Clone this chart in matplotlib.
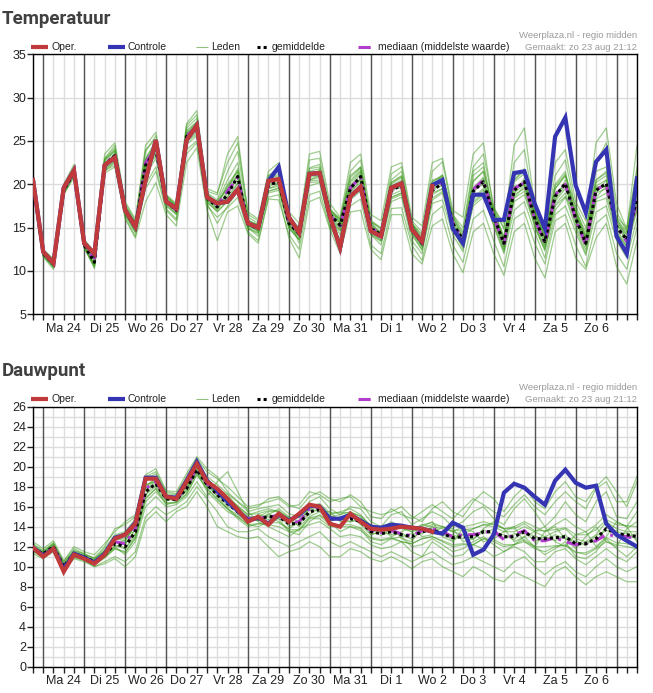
"""
Ensemble pluim (Weerplaza-stijl): temperatuur en dauwpunt voor regio midden.

Two stacked panels, each with the 6-hourly ensemble members (thin green),
ensemble mean (black dotted), median (magenta dashed), control run (blue)
and the operational run (red, stops after ~4 days).

Output: out.png
"""

import matplotlib
matplotlib.use("Agg")
import matplotlib.pyplot as plt
from matplotlib.lines import Line2D
import pandas as pd

# ---------------------------------------------------------------- data ----
TIMES = pd.date_range("2020-08-23 18:00", periods=60, freq="6h")
DAY_NOONS = pd.date_range("2020-08-24 12:00", periods=14, freq="D")
MIDNIGHTS = pd.date_range("2020-08-24 00:00", periods=15, freq="D")
DAY_LABELS = ["Ma 24", "Di 25", "Wo 26", "Do 27", "Vr 28", "Za 29", "Zo 30",
              "Ma 31", "Di 1", "Wo 2", "Do 3", "Vr 4", "Za 5", "Zo 6"]
LEGEND_LABELS = ["Oper.", "Controle", "Leden", "gemiddelde",
                 "mediaan (middelste waarde)"]

# Temperatuur (degC)
T_OPER = [20.5, 12.2, 10.9, 19.6, 21.6, 13.2, 12.0, 22.2, 23.1, 17.0,
          15.1, 20.5, 25.1, 18.0, 17.2, 25.1, 26.8, 18.5, 17.8, 18.0,
          19.4, 15.5, 15.0, 20.4, 20.6, 16.2, 14.4, 21.2, 21.3, 16.3,
          12.7, 18.6, 19.7, 14.6, 14.0, 19.6, 20.1, 14.8, 13.4, 19.8]
T_CTRL = [20.5, 12.2, 10.9, 19.6, 21.6, 13.2, 12.0, 22.2, 23.1, 17.0,
          15.1, 20.5, 25.1, 18.0, 17.2, 25.1, 26.8, 18.5, 17.8, 18.0,
          19.4, 15.5, 15.0, 20.4, 22.0, 16.2, 14.4, 21.2, 21.3, 16.3,
          12.7, 18.6, 19.7, 14.6, 14.0, 19.6, 20.1, 14.8, 13.4, 19.9,
          20.5, 14.9, 13.2, 18.8, 18.8, 15.9, 15.9, 21.3, 21.5, 17.8,
          14.9, 25.5, 27.7, 19.9, 16.7, 22.6, 24.0, 14.0, 12.0, 20.7]
T_MEAN = [20.3, 12.0, 10.8, 19.3, 21.4, 13.0, 11.0, 22.2, 23.3, 17.0,
          15.0, 22.2, 24.0, 18.0, 17.0, 25.5, 26.5, 18.4, 17.4, 18.8,
          20.9, 15.4, 14.9, 19.9, 20.3, 15.5, 14.3, 21.1, 21.3, 16.5,
          15.3, 19.5, 20.9, 14.9, 14.2, 19.3, 19.9, 14.9, 13.2, 19.3,
          20.1, 15.5, 13.6, 19.2, 20.3, 16.3, 13.2, 19.3, 20.3, 16.1,
          13.4, 18.6, 20.1, 16.1, 13.2, 19.3, 20.1, 15.1, 13.6, 18.4]
T_MEDIAN = [20.4, 12.1, 10.9, 19.4, 21.4, 13.1, 11.2, 22.3, 23.4, 17.1,
            15.1, 22.5, 24.2, 18.1, 17.0, 25.6, 26.6, 18.5, 17.6, 19.2,
            20.8, 15.4, 14.9, 20.0, 20.4, 15.6, 14.4, 21.2, 21.4, 16.4,
            15.2, 19.6, 20.8, 15.0, 14.2, 19.4, 20.0, 15.0, 13.3, 19.5,
            20.3, 15.6, 13.5, 19.4, 20.5, 16.2, 13.0, 19.5, 20.2, 16.0,
            13.2, 18.8, 20.0, 16.0, 13.0, 19.5, 19.8, 15.2, 13.4, 18.2]
T_MEMBERS = [
    [20.8, 12.4, 11.2, 19.8, 22.0, 13.5, 11.8, 23.0, 24.5, 17.6, 15.6, 23.8, 25.6, 18.6, 17.6, 26.8, 28.0, 19.0, 18.2, 21.5,
     23.8, 16.2, 15.5, 21.0, 22.0, 16.3, 15.0, 22.8, 23.0, 17.2, 16.0, 21.5, 22.8, 15.8, 15.0, 21.2, 22.0, 15.8, 14.5, 21.5,
     22.6, 16.5, 15.0, 22.0, 23.5, 17.5, 14.8, 22.5, 24.0, 17.0, 14.5, 21.0, 22.8, 17.2, 14.0, 22.5, 24.8, 16.8, 14.6, 22.0],
    [19.8, 11.6, 10.2, 18.8, 20.8, 12.6, 10.4, 21.3, 22.0, 16.2, 14.0, 19.5, 21.5, 17.0, 15.8, 23.5, 24.8, 17.5, 16.2, 17.3,
     18.5, 14.5, 13.5, 18.3, 18.2, 14.2, 12.5, 18.8, 19.2, 15.0, 13.2, 17.5, 18.3, 13.0, 12.0, 17.2, 17.3, 13.0, 11.2, 16.5,
     17.5, 13.0, 11.0, 16.0, 17.0, 13.5, 10.5, 16.0, 16.8, 13.2, 10.8, 15.8, 16.5, 13.0, 10.5, 15.5, 16.5, 12.0, 10.2, 15.0],
    [20.5, 12.2, 11.0, 19.5, 21.6, 13.3, 11.5, 22.6, 23.8, 17.3, 15.3, 22.8, 24.6, 18.3, 17.2, 25.9, 27.0, 18.8, 17.8, 19.6,
     21.8, 15.7, 15.0, 20.5, 21.0, 15.9, 14.8, 21.8, 22.0, 16.8, 15.5, 20.2, 21.6, 15.3, 14.5, 20.0, 20.8, 15.4, 13.8, 20.2,
     21.0, 16.0, 14.0, 20.4, 21.5, 16.8, 13.8, 20.3, 21.2, 16.6, 13.9, 19.5, 21.0, 16.6, 13.8, 20.2, 21.0, 15.6, 14.2, 19.5],
    [20.1, 11.8, 10.5, 19.0, 21.0, 12.8, 10.7, 21.8, 22.6, 16.6, 14.6, 21.0, 23.0, 17.5, 16.5, 24.6, 25.6, 18.0, 16.8, 18.0,
     19.6, 14.9, 14.3, 19.0, 19.3, 14.9, 13.6, 20.2, 20.3, 15.8, 14.6, 18.6, 19.8, 14.2, 13.4, 18.3, 18.8, 14.2, 12.4, 18.2,
     19.0, 14.8, 12.8, 18.0, 19.0, 15.3, 12.2, 18.0, 18.8, 15.2, 12.3, 17.5, 18.6, 15.0, 12.0, 18.0, 18.4, 14.0, 12.5, 17.0],
    [20.6, 12.3, 11.1, 19.7, 21.8, 13.4, 11.6, 22.8, 24.0, 17.8, 15.8, 24.5, 26.0, 18.8, 17.8, 27.0, 28.5, 19.5, 19.0, 22.5,
     24.8, 16.8, 16.0, 21.5, 22.5, 16.8, 15.5, 23.5, 23.8, 17.8, 16.2, 22.5, 23.5, 16.5, 15.8, 22.0, 22.5, 16.2, 15.2, 22.5,
     23.0, 17.0, 16.2, 23.5, 24.8, 17.0, 15.0, 24.5, 26.5, 17.5, 15.0, 22.5, 24.0, 18.0, 15.8, 24.8, 26.5, 17.8, 14.8, 24.5],
    [19.9, 11.9, 10.6, 19.1, 21.2, 12.9, 10.8, 21.6, 22.2, 16.0, 13.8, 18.0, 20.2, 16.5, 15.2, 22.5, 24.2, 17.0, 13.5, 16.8,
     17.5, 14.3, 13.2, 18.5, 18.8, 13.8, 11.5, 18.0, 18.5, 14.8, 12.0, 16.8, 17.0, 12.5, 11.3, 16.5, 16.5, 12.0, 10.8, 15.2,
     16.0, 12.0, 9.8, 14.5, 15.5, 12.0, 9.5, 14.5, 15.5, 11.5, 9.2, 14.5, 15.5, 11.5, 10.2, 13.8, 15.5, 10.5, 8.5, 13.5],
    [20.4, 12.1, 10.9, 19.4, 21.3, 13.1, 11.2, 22.4, 23.0, 17.1, 15.2, 21.8, 23.5, 18.2, 17.1, 25.2, 26.2, 18.6, 18.0, 20.5,
     22.5, 15.2, 14.6, 20.2, 20.8, 15.2, 14.0, 21.5, 21.8, 16.2, 14.8, 19.8, 21.5, 14.5, 13.8, 19.8, 20.5, 14.5, 12.8, 19.8,
     20.6, 15.8, 13.2, 19.6, 20.8, 16.0, 12.8, 19.0, 20.0, 16.5, 13.0, 18.0, 19.5, 16.8, 13.5, 19.8, 20.5, 15.5, 13.8, 19.2],
    [20.2, 12.0, 10.9, 19.2, 21.5, 13.0, 11.3, 22.0, 23.5, 17.2, 15.4, 22.5, 24.5, 18.2, 16.8, 25.8, 26.8, 18.2, 17.0, 19.0,
     21.0, 15.8, 15.3, 20.0, 20.0, 15.8, 14.8, 20.5, 20.8, 17.0, 16.0, 20.8, 22.0, 15.5, 14.0, 18.5, 19.0, 15.5, 14.2, 20.5,
     20.8, 14.8, 12.5, 17.5, 18.5, 17.2, 15.5, 21.0, 21.5, 15.0, 12.5, 17.0, 18.5, 17.0, 14.5, 21.5, 22.0, 14.5, 12.8, 17.5],
    [20.7, 12.5, 11.4, 20.0, 22.3, 13.7, 12.2, 23.5, 24.8, 18.0, 16.0, 24.0, 25.2, 18.8, 17.5, 26.5, 27.6, 18.9, 17.6, 20.0,
     21.5, 15.5, 14.5, 19.5, 19.8, 15.0, 13.6, 20.5, 21.0, 16.0, 14.2, 19.0, 20.5, 14.8, 14.6, 20.5, 21.5, 15.5, 13.5, 19.0,
     19.5, 15.0, 13.8, 21.0, 22.0, 16.2, 12.5, 18.5, 19.8, 16.8, 14.2, 20.0, 21.5, 16.0, 12.8, 18.5, 19.8, 16.2, 15.0, 21.5],
    [20.0, 11.8, 10.6, 19.0, 21.1, 12.8, 10.6, 21.9, 23.0, 16.8, 14.8, 22.0, 24.2, 17.8, 16.6, 25.0, 26.0, 18.2, 17.2, 18.5,
     20.2, 15.0, 14.0, 19.2, 19.6, 15.3, 14.0, 20.8, 21.0, 16.3, 15.0, 19.2, 20.2, 14.6, 13.5, 18.8, 19.3, 14.5, 12.8, 18.8,
     19.5, 15.2, 13.5, 18.5, 19.5, 15.8, 13.0, 18.8, 19.5, 15.5, 12.8, 18.2, 19.8, 15.8, 13.0, 19.0, 19.5, 14.8, 13.0, 18.0],
    [20.5, 12.3, 11.1, 19.6, 21.7, 13.4, 11.7, 22.9, 24.2, 17.5, 15.5, 23.0, 25.0, 18.5, 17.4, 26.2, 27.2, 19.2, 18.8, 23.5,
     25.5, 16.5, 15.8, 21.0, 21.5, 16.0, 13.2, 19.8, 20.2, 15.2, 13.8, 18.2, 19.2, 14.2, 13.0, 18.0, 18.5, 13.5, 12.0, 17.8,
     18.2, 14.2, 12.2, 17.8, 18.8, 15.2, 12.0, 17.0, 18.0, 14.5, 11.5, 16.5, 17.5, 14.5, 11.8, 16.8, 17.5, 13.5, 11.5, 16.0],
    [20.2, 11.9, 10.4, 19.1, 21.2, 12.8, 10.3, 21.5, 22.5, 16.4, 14.4, 20.0, 22.0, 17.2, 16.0, 24.0, 25.0, 17.8, 15.5, 17.5,
     19.2, 15.2, 14.8, 19.5, 20.0, 15.3, 14.0, 21.3, 21.5, 16.8, 15.8, 21.0, 22.0, 15.8, 14.8, 20.2, 21.0, 15.2, 13.0, 19.8,
     21.0, 16.5, 14.5, 21.5, 22.5, 16.5, 13.8, 20.5, 21.8, 16.8, 14.0, 19.5, 21.0, 17.5, 15.0, 20.5, 21.5, 16.0, 14.2, 20.0],
    [20.6, 12.4, 11.3, 19.8, 21.9, 13.4, 11.4, 22.8, 23.9, 17.5, 15.4, 22.9, 24.8, 18.4, 17.4, 26.0, 27.2, 18.9, 17.9, 19.5,
     21.6, 15.9, 15.3, 20.6, 21.2, 16.0, 14.9, 21.9, 22.3, 17.0, 15.9, 20.4, 21.9, 15.6, 14.9, 20.2, 20.9, 15.5, 14.0, 20.3,
     21.1, 16.2, 14.3, 20.3, 21.5, 17.0, 14.0, 20.5, 21.5, 16.9, 14.2, 19.8, 21.2, 16.9, 14.0, 20.5, 21.3, 16.0, 14.5, 19.8],
    [20.0, 11.7, 10.4, 18.9, 21.0, 12.7, 10.6, 21.7, 22.7, 16.6, 14.5, 21.5, 23.3, 17.6, 16.6, 24.9, 25.8, 17.9, 16.9, 18.1,
     20.1, 15.0, 14.4, 19.2, 19.5, 15.0, 13.7, 20.4, 20.5, 16.0, 14.7, 18.7, 20.0, 14.3, 13.5, 18.5, 19.0, 14.3, 12.5, 18.4,
     19.2, 14.9, 12.9, 18.3, 19.3, 15.6, 12.5, 18.4, 19.2, 15.4, 12.6, 17.7, 19.0, 15.4, 12.4, 18.3, 19.0, 14.4, 12.8, 17.4],
    [20.3, 12.1, 10.7, 19.5, 21.2, 13.2, 11.3, 22.0, 23.6, 16.8, 15.2, 22.6, 23.7, 18.3, 16.8, 25.8, 26.2, 18.7, 17.2, 19.3,
     20.5, 15.7, 14.6, 20.3, 20.0, 15.8, 14.0, 21.5, 21.0, 16.9, 15.0, 19.9, 20.5, 15.3, 13.9, 19.7, 19.5, 15.3, 12.9, 19.7,
     19.8, 15.9, 13.3, 19.6, 19.9, 16.7, 12.9, 19.7, 19.9, 16.5, 13.1, 19.0, 19.8, 16.5, 12.9, 19.7, 19.8, 15.5, 13.3, 18.8],
    [20.1, 11.9, 11.0, 19.1, 21.6, 12.9, 10.8, 22.5, 23.0, 17.3, 14.8, 21.9, 24.4, 17.8, 17.3, 25.2, 26.9, 18.2, 17.7, 18.5,
     21.3, 15.2, 15.2, 19.6, 20.7, 15.3, 14.6, 20.8, 21.7, 16.2, 15.6, 19.2, 21.3, 14.6, 14.5, 19.0, 20.3, 14.6, 13.5, 19.0,
     20.5, 15.2, 13.9, 18.9, 20.7, 16.0, 13.5, 19.0, 20.7, 15.8, 13.7, 18.3, 20.5, 15.8, 13.5, 19.0, 20.5, 14.8, 13.9, 18.1],
    [20.4, 12.2, 10.9, 19.6, 21.5, 13.1, 11.6, 22.4, 23.5, 17.2, 15.6, 22.4, 24.1, 18.6, 17.6, 25.6, 26.6, 18.6, 17.9, 19.8,
     21.0, 15.6, 15.4, 20.1, 20.2, 16.2, 14.4, 21.2, 21.2, 17.2, 15.5, 19.6, 20.6, 15.7, 14.2, 19.5, 19.7, 15.6, 13.3, 19.5,
     19.9, 16.4, 13.8, 19.6, 20.0, 17.2, 13.4, 19.8, 20.0, 16.8, 13.6, 18.9, 19.9, 16.8, 13.4, 19.5, 19.8, 15.9, 13.8, 18.7],
]

# Dauwpunt (degC)
D_OPER = [11.9, 11.0, 11.8, 9.5, 11.2, 10.8, 10.3, 11.2, 12.8, 13.2,
          14.3, 18.8, 18.8, 17.0, 16.8, 18.5, 20.3, 18.5, 17.8, 16.8,
          15.7, 14.5, 15.0, 14.2, 15.3, 14.5, 15.3, 16.2, 16.0, 14.3,
          14.0, 15.3, 14.5, 13.8, 13.7, 13.8, 14.0, 13.9, 13.8, 13.5]
D_CTRL = [11.9, 11.1, 11.8, 9.7, 11.3, 10.9, 10.4, 11.3, 12.9, 13.2,
          14.4, 18.9, 18.9, 17.0, 16.9, 18.6, 20.5, 18.6, 17.6, 16.5,
          15.6, 14.6, 14.9, 14.3, 15.2, 14.6, 15.2, 16.1, 16.0, 14.8,
          14.8, 15.2, 14.6, 14.0, 13.9, 14.2, 14.1, 13.9, 13.8, 13.5,
          13.3, 14.4, 13.9, 11.2, 11.7, 13.2, 17.4, 18.3, 17.9, 17.0,
          16.2, 18.6, 19.7, 18.4, 17.9, 18.1, 14.3, 13.2, 12.6, 12.0]
D_MEAN = [11.8, 11.3, 12.0, 10.0, 11.3, 11.0, 10.5, 11.2, 12.3, 12.0,
          13.5, 17.5, 18.3, 16.8, 16.7, 17.8, 19.7, 18.2, 17.2, 16.3,
          15.5, 14.7, 14.8, 15.0, 15.0, 14.3, 14.3, 15.5, 15.7, 14.8,
          14.8, 14.8, 14.5, 13.5, 13.3, 13.5, 13.2, 13.0, 13.5, 13.7,
          13.3, 12.9, 13.0, 13.0, 13.5, 13.5, 13.0, 13.0, 13.5, 12.8,
          12.8, 12.9, 13.0, 12.3, 12.3, 12.8, 13.8, 13.3, 13.2, 13.0]
D_MEDIAN = [11.9, 11.2, 11.9, 10.1, 11.2, 10.9, 10.4, 11.3, 12.5, 12.3,
            13.8, 17.8, 18.5, 16.9, 16.7, 18.0, 19.9, 18.3, 17.4, 16.5,
            15.6, 14.8, 14.9, 14.9, 15.2, 14.4, 14.5, 15.8, 15.9, 14.9,
            14.8, 15.0, 14.6, 13.6, 13.4, 13.6, 13.3, 13.1, 13.6, 13.8,
            13.5, 13.0, 13.2, 13.2, 13.4, 13.6, 12.7, 13.2, 13.6, 12.6,
            12.6, 12.9, 12.5, 12.2, 12.3, 12.6, 13.2, 13.1, 13.0, 12.8]
D_MEMBERS = [
    [12.3, 11.6, 12.4, 10.5, 11.8, 11.3, 10.8, 11.8, 13.2, 13.5, 14.8, 18.8, 19.3, 17.3, 17.2, 18.6, 20.5, 19.0, 18.2, 17.3,
     16.5, 15.5, 15.8, 16.0, 16.2, 15.3, 15.0, 16.5, 17.0, 15.8, 15.2, 16.0, 15.8, 14.5, 14.0, 15.2, 15.5, 14.2, 14.8, 15.5,
     15.0, 14.0, 14.5, 15.5, 16.0, 14.8, 14.2, 15.8, 16.8, 15.5, 14.0, 15.0, 16.5, 15.2, 14.5, 16.5, 17.5, 15.0, 14.8, 16.5],
    [11.3, 10.8, 11.5, 9.6, 10.8, 10.5, 10.0, 10.5, 11.0, 10.5, 11.5, 15.0, 16.0, 15.2, 15.8, 16.5, 18.0, 16.8, 15.5, 14.0,
     13.5, 13.5, 13.8, 13.0, 12.5, 12.0, 12.5, 13.0, 13.5, 12.5, 12.0, 12.5, 12.0, 11.5, 11.0, 11.5, 11.0, 10.5, 11.0, 11.5,
     10.8, 10.2, 10.5, 11.0, 10.5, 10.0, 9.5, 10.5, 11.0, 10.0, 9.2, 10.0, 10.5, 9.5, 9.0, 10.0, 10.8, 10.0, 9.5, 10.0],
    [11.9, 11.4, 12.1, 10.2, 11.4, 11.1, 10.6, 11.4, 12.5, 12.2, 13.8, 17.8, 18.6, 17.0, 16.9, 18.0, 19.8, 18.4, 17.5, 16.7,
     15.8, 15.0, 15.0, 15.5, 15.5, 14.8, 14.6, 15.8, 16.0, 15.0, 15.2, 15.5, 15.0, 13.8, 13.5, 14.0, 13.8, 13.5, 13.8, 14.2,
     14.0, 13.5, 13.2, 13.8, 14.2, 14.0, 13.5, 13.5, 14.0, 13.5, 13.0, 13.5, 13.8, 12.8, 12.5, 13.2, 14.5, 13.8, 13.5, 13.5],
    [11.6, 11.0, 11.8, 9.8, 11.0, 10.8, 10.2, 10.9, 11.8, 11.5, 12.8, 16.5, 17.5, 16.3, 16.4, 17.2, 19.2, 17.8, 16.8, 15.8,
     14.8, 14.0, 14.3, 14.2, 14.0, 13.5, 13.6, 14.8, 14.8, 14.0, 14.0, 14.0, 13.6, 12.8, 12.6, 12.8, 12.5, 12.3, 12.8, 13.0,
     12.5, 12.0, 12.2, 12.2, 12.8, 12.5, 12.0, 12.2, 12.5, 11.8, 11.5, 12.0, 12.2, 11.5, 11.2, 11.8, 12.5, 12.2, 12.0, 11.8],
    [12.2, 11.5, 12.3, 10.4, 11.6, 11.2, 10.9, 12.0, 13.8, 14.2, 15.0, 19.0, 19.5, 17.5, 17.3, 19.0, 20.8, 19.5, 18.8, 18.0,
     17.0, 16.0, 16.2, 16.5, 16.8, 16.0, 16.2, 17.5, 17.2, 16.5, 16.8, 17.0, 16.0, 15.5, 15.2, 15.5, 16.0, 15.0, 14.5, 15.8,
     16.5, 15.5, 15.0, 16.5, 17.5, 16.8, 15.5, 17.0, 18.0, 16.5, 15.8, 17.5, 18.5, 17.0, 16.5, 18.0, 19.0, 17.5, 16.0, 18.5],
    [11.5, 10.9, 11.6, 9.7, 10.9, 10.6, 10.0, 10.3, 10.8, 10.0, 11.0, 14.5, 15.5, 14.5, 15.5, 16.0, 17.5, 16.0, 14.0, 13.5,
     13.0, 12.8, 13.0, 12.0, 11.0, 11.5, 11.8, 12.5, 12.0, 11.0, 11.0, 11.8, 11.5, 10.8, 10.5, 11.0, 10.5, 9.8, 10.5, 10.8,
     10.0, 9.5, 9.0, 10.0, 9.5, 8.8, 8.5, 9.5, 9.0, 8.5, 8.0, 9.5, 10.0, 9.0, 8.2, 9.0, 9.5, 9.0, 8.5, 8.5],
    [12.0, 11.3, 12.0, 9.9, 11.3, 11.0, 10.6, 11.5, 12.8, 12.8, 14.0, 18.0, 18.8, 17.2, 16.6, 17.5, 19.5, 18.0, 17.8, 17.2,
     16.0, 14.8, 14.6, 15.2, 15.8, 15.0, 14.0, 15.0, 15.5, 15.5, 14.5, 14.5, 14.8, 14.2, 13.8, 13.0, 13.5, 14.0, 13.0, 13.2,
     14.0, 13.8, 12.5, 12.8, 13.8, 14.5, 13.8, 12.5, 13.0, 13.5, 14.0, 12.5, 12.0, 13.2, 13.5, 12.0, 13.0, 14.5, 14.0, 12.5],
    [11.7, 11.2, 11.9, 10.1, 11.2, 10.9, 10.4, 11.0, 12.0, 12.4, 13.2, 17.2, 18.0, 16.6, 16.8, 18.2, 20.0, 18.6, 17.0, 15.8,
     15.2, 14.5, 15.2, 15.0, 14.5, 13.8, 14.5, 16.0, 16.2, 14.2, 14.2, 15.2, 14.2, 13.2, 13.5, 14.2, 12.8, 12.5, 14.0, 14.5,
     13.0, 12.5, 13.8, 13.5, 12.5, 12.8, 13.5, 14.0, 12.5, 12.0, 13.5, 14.0, 12.8, 11.8, 13.0, 14.0, 12.5, 12.0, 13.8, 14.5],
    [12.1, 11.4, 12.2, 10.3, 11.5, 11.1, 10.7, 11.6, 12.6, 11.8, 13.0, 16.8, 17.8, 16.2, 16.5, 17.8, 19.5, 17.5, 16.5, 15.5,
     15.0, 14.2, 14.0, 14.5, 14.8, 13.5, 13.2, 14.5, 15.2, 14.5, 13.5, 14.0, 13.8, 12.5, 12.2, 12.8, 13.0, 12.0, 12.2, 12.8,
     12.2, 11.5, 11.8, 12.5, 13.0, 12.2, 11.5, 12.2, 13.0, 12.0, 11.2, 11.8, 12.5, 11.0, 10.8, 11.5, 12.8, 11.8, 11.0, 12.0],
    [11.8, 11.3, 12.1, 10.0, 11.4, 11.0, 10.5, 11.3, 12.4, 12.6, 14.2, 18.2, 18.5, 17.0, 17.0, 18.3, 20.0, 18.2, 17.5, 16.8,
     16.0, 15.2, 15.5, 15.8, 15.5, 14.8, 15.0, 16.0, 16.2, 15.2, 15.5, 15.8, 15.2, 14.0, 13.8, 14.5, 14.0, 13.5, 14.2, 14.0,
     13.8, 13.5, 14.0, 14.2, 14.5, 14.2, 13.8, 14.0, 14.5, 14.0, 13.5, 14.2, 14.8, 14.0, 13.5, 14.2, 15.2, 14.5, 14.0, 15.5],
    [11.6, 11.1, 11.8, 9.9, 11.1, 10.8, 10.2, 11.0, 12.0, 11.2, 12.5, 16.0, 17.0, 16.0, 16.2, 17.0, 18.5, 17.0, 18.5, 19.5,
     17.5, 15.5, 14.5, 14.0, 13.5, 13.0, 13.8, 14.2, 14.5, 13.8, 13.0, 13.2, 13.0, 12.2, 11.8, 12.0, 12.5, 11.5, 11.0, 12.5,
     11.8, 11.0, 11.2, 12.2, 11.8, 11.0, 11.5, 12.0, 11.5, 10.5, 10.5, 11.5, 11.8, 10.8, 10.2, 11.0, 11.8, 11.0, 10.5, 11.5],
    [12.5, 11.8, 12.6, 10.6, 12.0, 11.5, 11.2, 12.3, 13.5, 14.5, 15.2, 19.2, 19.8, 17.6, 17.5, 19.3, 21.0, 19.8, 19.0, 17.5,
     16.5, 15.8, 16.0, 16.8, 17.0, 16.2, 15.8, 17.0, 17.5, 16.8, 16.5, 17.2, 16.5, 15.0, 14.8, 15.8, 15.2, 14.8, 15.5, 16.2,
     15.5, 14.8, 15.8, 16.8, 16.2, 15.5, 15.0, 16.2, 17.2, 16.0, 15.2, 16.5, 17.5, 16.5, 15.8, 17.8, 18.5, 16.5, 16.5, 19.0],
    [12.0, 11.5, 12.3, 10.3, 11.6, 11.3, 10.8, 11.6, 12.8, 12.6, 14.1, 18.1, 18.8, 17.2, 17.0, 18.3, 20.2, 18.6, 17.7, 16.9,
     16.1, 15.2, 15.3, 15.6, 15.6, 14.9, 14.9, 16.1, 16.3, 15.4, 15.4, 15.4, 15.1, 14.1, 13.9, 14.1, 13.9, 13.7, 14.2, 14.4,
     14.0, 13.6, 13.7, 13.8, 14.2, 14.3, 13.8, 13.8, 14.3, 13.6, 13.6, 13.7, 13.9, 13.2, 13.2, 13.7, 14.7, 14.2, 14.1, 14.0],
    [11.6, 11.1, 11.7, 9.8, 11.0, 10.7, 10.2, 10.9, 11.8, 11.4, 12.9, 16.9, 17.8, 16.4, 16.4, 17.3, 19.2, 17.8, 16.7, 15.8,
     15.0, 14.2, 14.3, 14.4, 14.4, 13.7, 13.7, 14.9, 15.1, 14.2, 14.2, 14.2, 13.9, 12.9, 12.7, 12.9, 12.5, 12.3, 12.8, 13.0,
     12.6, 12.2, 12.3, 12.2, 12.8, 12.7, 12.2, 12.2, 12.7, 12.0, 12.0, 12.1, 12.1, 11.4, 11.4, 11.9, 12.9, 12.4, 12.3, 12.0],
    [11.9, 11.2, 12.1, 10.1, 11.2, 11.1, 10.4, 11.4, 12.5, 12.3, 13.7, 17.9, 18.1, 17.0, 16.5, 18.0, 19.5, 18.4, 17.0, 16.6,
     15.3, 15.0, 14.6, 15.3, 14.8, 14.6, 14.1, 15.8, 15.5, 15.1, 14.6, 15.1, 14.3, 13.8, 13.1, 13.8, 13.0, 13.3, 13.3, 14.0,
     13.1, 13.2, 12.8, 13.3, 13.3, 13.8, 12.8, 13.3, 13.3, 13.1, 12.6, 13.2, 12.8, 12.6, 12.1, 13.1, 13.6, 13.6, 13.0, 13.3],
    [11.7, 11.4, 11.9, 10.0, 11.4, 10.9, 10.6, 11.1, 12.1, 11.8, 13.3, 17.2, 18.5, 16.6, 16.9, 17.6, 19.9, 18.0, 17.4, 16.0,
     15.7, 14.4, 15.0, 14.7, 15.2, 14.0, 14.5, 15.2, 15.9, 14.5, 15.0, 14.5, 14.7, 13.2, 13.5, 13.2, 13.4, 12.7, 13.7, 13.4,
     13.5, 12.6, 13.2, 12.7, 13.7, 13.2, 13.2, 12.7, 13.7, 12.5, 13.0, 12.6, 13.2, 12.0, 12.5, 12.5, 14.0, 13.0, 13.4, 12.7],
]

# --------------------------------------------------------------- style ----
OPER_COLOR = "#c0393b"
CTRL_COLOR = "#3535b3"
MEMBER_COLOR = "#3f9c1f"
MEDIAN_COLOR = "#b23ccc"
GRID_LIGHT = "#dcdcdc"
GRID_DARK = "#555555"
TITLE_COLOR = "#404040"
STAMP_COLOR = "#9a9a9a"
MEAN_DOTS = (0, (1, 1))
MEDIAN_DASH = (0, (4, 2, 1, 2))

# legend sample styles + where each entry sits in the header (pixels)
LEGEND_STYLES = [
    dict(color=OPER_COLOR, lw=3),
    dict(color=CTRL_COLOR, lw=3),
    dict(color=MEMBER_COLOR, lw=0.8, alpha=0.6),
    dict(color="black", lw=2.2, ls=MEAN_DOTS),
    dict(color=MEDIAN_COLOR, lw=2.2, ls=MEDIAN_DASH),
]
LEGEND_X = [(31, 48, 51), (108, 125, 127.5), (196, 208, 211),
            (257, 268, 272), (358, 374, 378)]

plt.rcParams["font.family"] = ["Liberation Sans", "DejaVu Sans"]

W, H = 653, 693


def _px(x, y):
    """pixel position (from top-left) -> figure fraction"""
    return x / W, 1 - y / H


def draw_header(fig, title, title_y, legend_y):
    fig.text(*_px(2, title_y), title, fontsize=13.5, fontweight="bold",
             family=["Roboto", "DejaVu Sans"], color=TITLE_COLOR, va="center")

    # hand-placed legend row (spacing in the original is not uniform)
    for style, (x0, x1, xt), label in zip(LEGEND_STYLES, LEGEND_X,
                                          LEGEND_LABELS):
        (fx0, fy), (fx1, _) = _px(x0, legend_y), _px(x1, legend_y)
        fig.add_artist(Line2D([fx0, fx1], [fy, fy], transform=fig.transFigure,
                              solid_capstyle="butt", **style))
        fig.text(*_px(xt, legend_y), label, fontsize=7.5, color="#222222",
                 va="center", ha="left")

    sx, sy1 = _px(637, legend_y - 11)
    _, sy2 = _px(637, legend_y)
    fig.text(sx, sy1, "Weerplaza.nl - regio midden", ha="right", va="center",
             fontsize=6.8, color=STAMP_COLOR)
    fig.text(sx, sy2, "Gemaakt: zo 23 aug 21:12", ha="right", va="center",
             fontsize=6.8, color=STAMP_COLOR)


def draw_panel(fig, rect, oper, ctrl, mean, median, members,
               ylim, ystep, yminor=None):
    ax = fig.add_axes(rect)
    n_oper = len(oper)

    for m in members:
        ax.plot(TIMES, m, color=MEMBER_COLOR, lw=0.9, alpha=0.5, zorder=2)
    ax.plot(TIMES, median, color=MEDIAN_COLOR, lw=2.2, ls=MEDIAN_DASH, zorder=3)
    ax.plot(TIMES, mean, color="black", lw=2.2, ls=MEAN_DOTS, zorder=4)
    ax.plot(TIMES, ctrl, color=CTRL_COLOR, lw=3, zorder=5,
            solid_joinstyle="miter")
    ax.plot(TIMES[:n_oper], oper, color=OPER_COLOR, lw=3, zorder=6,
            solid_joinstyle="miter")

    # x axis: 6-hourly ticks, day labels at noon, dark lines at midnight
    ax.set_xlim(TIMES[0], TIMES[-1])
    ax.set_xticks(DAY_NOONS, labels=DAY_LABELS)
    ax.set_xticks(TIMES, minor=True)
    for t in MIDNIGHTS:
        ax.axvline(t, color=GRID_DARK, lw=1, zorder=1)
    ax.grid(True, which="both", axis="x", color=GRID_LIGHT, lw=1, zorder=0)

    ax.set_ylim(*ylim)
    ax.set_yticks(range(ylim[0], ylim[1] + 1, ystep))
    if yminor:
        ax.set_yticks(range(ylim[0], ylim[1] + 1, yminor), minor=True)
        ax.tick_params(axis="y", which="minor", length=0)
    ax.grid(True, which="both", axis="y", color=GRID_LIGHT, lw=1, zorder=0)
    ax.set_axisbelow(True)

    ax.tick_params(axis="x", which="both", length=4, width=1, pad=2,
                   labelsize=9, colors="#222222")
    ax.tick_params(axis="y", which="major", length=4, width=1, pad=1,
                   labelsize=9, colors="#222222")
    for sp in ax.spines.values():
        sp.set_color("black")
        sp.set_linewidth(1)
    return ax


def main():
    fig = plt.figure(figsize=(W / 100, H / 100), dpi=100)
    fig.patch.set_facecolor("white")

    left, width = 33 / W, 604 / W
    height = 260 / H

    draw_header(fig, "Temperatuur", 19.5, 47)
    draw_panel(fig, [left, 1 - 314.3 / H, width, height],
               T_OPER, T_CTRL, T_MEAN, T_MEDIAN, T_MEMBERS,
               ylim=(5, 35), ystep=5)

    draw_header(fig, "Dauwpunt", 371.5, 399)
    draw_panel(fig, [left, 1 - 666.7 / H, width, height],
               D_OPER, D_CTRL, D_MEAN, D_MEDIAN, D_MEMBERS,
               ylim=(0, 26), ystep=2, yminor=1)

    fig.savefig("out.png", dpi=100, facecolor="white")
    plt.close(fig)


if __name__ == "__main__":
    main()
